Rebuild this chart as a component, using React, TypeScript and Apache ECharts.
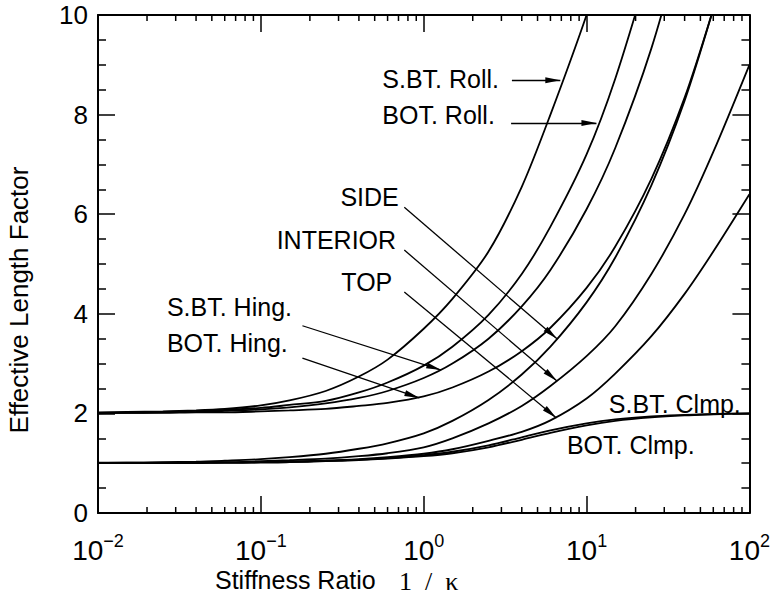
import React, { useEffect, useRef } from 'react';
import * as echarts from 'echarts';

const FONT = "'Liberation Sans', Arial, Helvetica, sans-serif";
const SERIF = "'Liberation Serif', 'Times New Roman', serif";

// stiffness ratio 1/kappa (x)
const stiffness = [0.01, 0.015, 0.025, 0.04, 0.06, 0.1, 0.15, 0.25, 0.4, 0.6, 1, 1.5, 2.5, 4, 6, 10, 15, 25, 40, 60, 100];

// effective length factor (y) per curve
const sbtRoll = [2.02, 2.03, 2.04, 2.06, 2.09, 2.16, 2.26, 2.45, 2.74, 3.08, 3.7, 4.3, 5.25, 6.55, 8.0, 10.0, 11.8, null, null, null, null];
const botRoll = [2.01, 2.02, 2.03, 2.05, 2.07, 2.11, 2.17, 2.25, 2.42, 2.62, 2.96, 3.34, 3.98, 4.8, 5.75, 7.2, 8.72, 11.1, null, null, null];
const sbtHing = [2.01, 2.01, 2.02, 2.03, 2.05, 2.08, 2.12, 2.2, 2.31, 2.45, 2.71, 3.0, 3.5, 4.15, 4.88, 6.1, 7.33, 9.33, 11.7, null, null];
const botHing = [2.0, 2.01, 2.01, 2.02, 2.02, 2.04, 2.06, 2.09, 2.15, 2.21, 2.34, 2.52, 2.84, 3.25, 3.72, 4.52, 5.35, 6.71, 8.34, 10.12, null];
const side = [1.01, 1.01, 1.02, 1.03, 1.05, 1.08, 1.12, 1.19, 1.29, 1.4, 1.6, 1.85, 2.27, 2.78, 3.34, 4.23, 5.13, 6.58, 8.28, 10.12, null];
const interior = [1.0, 1.01, 1.01, 1.02, 1.02, 1.04, 1.06, 1.09, 1.14, 1.2, 1.32, 1.5, 1.8, 2.15, 2.55, 3.15, 3.75, 4.8, 6.0, 7.25, 9.0];
const topCol = [1.0, 1.0, 1.0, 1.01, 1.01, 1.02, 1.03, 1.05, 1.08, 1.12, 1.19, 1.28, 1.45, 1.63, 1.86, 2.3, 2.8, 3.55, 4.4, 5.25, 6.4];
const sbtClmp = [1.0, 1.0, 1.0, 1.01, 1.01, 1.02, 1.03, 1.05, 1.07, 1.1, 1.16, 1.23, 1.36, 1.52, 1.66, 1.8, 1.88, 1.94, 1.97, 1.99, 2.0];
const botClmp = [1.0, 1.0, 1.0, 1.0, 1.01, 1.01, 1.02, 1.04, 1.06, 1.09, 1.14, 1.2, 1.32, 1.47, 1.61, 1.76, 1.85, 1.92, 1.96, 1.98, 2.0];

const curveNames = ['S.BT. Roll.', 'BOT. Roll.', 'S.BT. Hing.', 'BOT. Hing.', 'SIDE', 'INTERIOR', 'TOP', 'S.BT. Clmp.', 'BOT. Clmp.'];
const curveValues = [sbtRoll, botRoll, sbtHing, botHing, side, interior, topCol, sbtClmp, botClmp];

// annotation labels (data coordinates of left edge / vertical middle)
const labelTexts = ['S.BT. Roll.', 'BOT. Roll.', 'SIDE', 'INTERIOR', 'TOP', 'S.BT. Hing.', 'BOT. Hing.', 'S.BT. Clmp.', 'BOT. Clmp.'];
const labelX = [0.557, 0.557, 0.308, 0.125, 0.312, 0.0265, 0.0265, 13.7, 7.57];
const labelY = [8.71, 7.99, 6.35, 5.48, 4.64, 4.14, 3.42, 2.19, 1.37];

// arrows (data coordinates)
const arrowFrom = [[3.48, 8.69], [3.44, 7.83], [0.76, 6.14], [0.76, 5.28], [0.76, 4.44], [0.18, 3.76], [0.18, 3.11]];
const arrowTo = [[6.9, 8.69], [11.5, 7.83], [6.58, 3.5], [6.58, 2.65], [6.53, 1.91], [1.28, 2.87], [0.94, 2.31]];

// axis ticks
const minorMultipliers = [2, 3, 4, 5, 6, 7, 8, 9];
const decades = [0.01, 0.1, 1, 10];

export default function App() {
  const ref = useRef<HTMLDivElement>(null);

  useEffect(() => {
    const el = ref.current as HTMLDivElement;
    const chart = echarts.init(el, null, { renderer: 'svg' });

    const minorTicks = decades.flatMap((d) => minorMultipliers.map((m) => [Number((d * m).toPrecision(3)), 0]));

    const lineSeries: any[] = curveValues.map((vals, i) => {
      const s: any = {
        name: curveNames[i],
        type: 'line',
        xAxisIndex: 0,
        yAxisIndex: 0,
        data: stiffness.map((x, j) => [x, vals[j]]).filter((p) => p[1] != null),
        smooth: 0.3,
        symbol: 'none',
        showSymbol: false,
        silent: true,
        lineStyle: { color: '#000', width: 1.8 },
      };
      if (i === 0) {
        s.markLine = {
          silent: true,
          symbol: ['none', 'triangle'],
          label: { show: false },
          lineStyle: { color: '#000', width: 1.3, type: 'solid' },
          emphasis: { disabled: true },
          data: arrowFrom.map((f, k) => [
            { coord: f, symbol: 'none' },
            { coord: arrowTo[k], symbol: 'triangle', symbolSize: [6, 15], symbolOffset: [0, 7.5], itemStyle: { color: '#000' } },
          ]),
        };
      }
      return s;
    });

    const tickSeries = {
      type: 'custom',
      xAxisIndex: 0,
      yAxisIndex: 0,
      silent: true,
      data: minorTicks,
      renderItem: (params: any, api: any) => {
        const x = api.coord([api.value(0), 0])[0];
        const cs = params.coordSys;
        const yb = cs.y + cs.height;
        const yt = cs.y;
        return {
          type: 'group',
          children: [
            { type: 'line', shape: { x1: x, y1: yb, x2: x, y2: yb - 6 }, style: { stroke: '#000', lineWidth: 1.5 } },
            { type: 'line', shape: { x1: x, y1: yt, x2: x, y2: yt + 6 }, style: { stroke: '#000', lineWidth: 1.5 } },
          ],
        };
      },
    };

    const axisLine = { show: true, onZero: false, lineStyle: { color: '#000', width: 2 } };
    const majorTick = { show: true, inside: true, length: 17, lineStyle: { color: '#000', width: 1.5 } };
    const yMinor = { show: true, splitNumber: 4, length: 8, lineStyle: { color: '#000', width: 1.5 } };

    chart.setOption({
      animation: false,
      backgroundColor: '#fff',
      grid: { left: 98, top: 15, width: 653, height: 498, containLabel: false },
      xAxis: [
        {
          type: 'log',
          logBase: 10,
          min: 0.01,
          max: 100,
          position: 'bottom',
          axisLine,
          axisTick: majorTick,
          minorTick: { show: false },
          splitLine: { show: false },
          axisLabel: {
            margin: 19,
            color: '#000',
            formatter: (v: number) => {
              const e = Math.round(Math.log10(v));
              return '{b|10}{s|' + (e < 0 ? '\u2212' + Math.abs(e) : String(e)) + '}';
            },
            rich: {
              b: { fontSize: 28, lineHeight: 36, fontFamily: FONT, color: '#000' },
              s: { fontSize: 18, lineHeight: 18, verticalAlign: 'top', fontFamily: FONT, color: '#000' },
            },
          },
        },
        {
          type: 'log',
          logBase: 10,
          min: 0.01,
          max: 100,
          position: 'top',
          axisLine,
          axisTick: majorTick,
          minorTick: { show: false },
          splitLine: { show: false },
          axisLabel: { show: false },
        },
      ],
      yAxis: [
        {
          type: 'value',
          min: 0,
          max: 10,
          interval: 2,
          position: 'left',
          axisLine,
          axisTick: majorTick,
          minorTick: yMinor,
          splitLine: { show: false },
          axisLabel: { color: '#000', fontSize: 26, fontFamily: FONT, margin: 10 },
        },
        {
          type: 'value',
          min: 0,
          max: 10,
          interval: 2,
          position: 'right',
          axisLine,
          axisTick: majorTick,
          minorTick: yMinor,
          splitLine: { show: false },
          axisLabel: { show: false },
        },
      ],
      series: [...lineSeries, tickSeries],
    });

    const toPx = (x: number, y: number) => chart.convertToPixel({ seriesIndex: 0 }, [x, y]) as number[];

    const graphics: any[] = labelTexts.map((t, i) => {
      const p = toPx(labelX[i], labelY[i]);
      return {
        type: 'text',
        x: p[0],
        y: p[1],
        silent: true,
        style: { text: t, fill: '#000', fontSize: 25, fontFamily: FONT, align: 'left', verticalAlign: 'middle' },
      };
    });

    graphics.push({
      type: 'text',
      x: 215,
      y: 580,
      silent: true,
      style: { text: 'Stiffness Ratio', fill: '#000', fontSize: 25, fontFamily: FONT, align: 'left', verticalAlign: 'middle' },
    });
    graphics.push({
      type: 'text',
      x: 399,
      y: 581,
      silent: true,
      style: { text: '1  /  \u03ba', fill: '#000', fontSize: 26, fontFamily: SERIF, align: 'left', verticalAlign: 'middle' },
    });
    graphics.push({
      type: 'text',
      x: 19,
      y: 300,
      rotation: Math.PI / 2,
      silent: true,
      style: { text: 'Effective Length Factor', fill: '#000', fontSize: 26, fontFamily: FONT, align: 'center', verticalAlign: 'middle' },
    });

    chart.setOption({ graphic: graphics });

    return () => {
      chart.dispose();
    };
  }, []);

  return (
    <div
      ref={ref}
      style={{ position: 'fixed', left: 0, top: 0, width: 773, height: 616, background: '#fff' }}
    />
  );
}
